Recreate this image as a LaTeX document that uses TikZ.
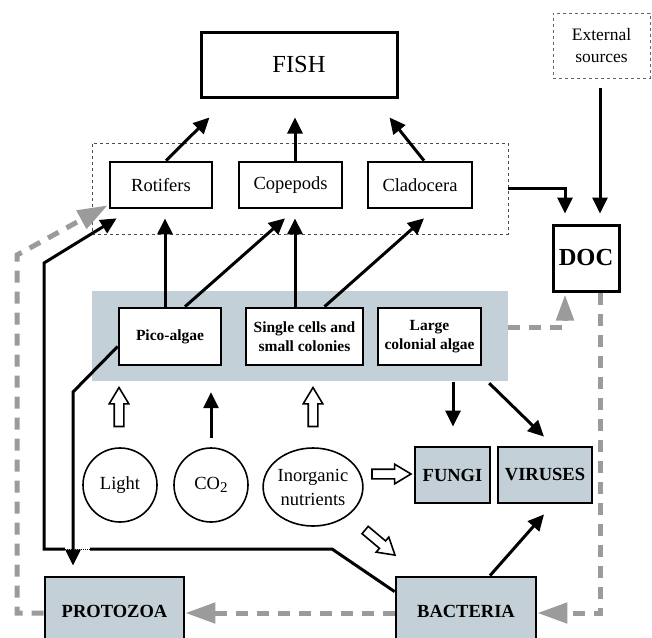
\documentclass[tikz,border=0pt]{standalone}
\usepackage{fontspec}
\setmainfont{Liberation Serif}
\usetikzlibrary{arrows.meta,calc,shapes.geometric,shapes.arrows}
\definecolor{bandgray}{RGB}{196,208,215}
\definecolor{dgray}{RGB}{155,155,155}
\begin{document}
\begin{tikzpicture}[x=1pt,y=-1pt,
  box/.style={draw, line width=2.7pt, fill=white, inner sep=0pt, align=center, font=\fontsize{18.5}{20}\selectfont},
  bbox/.style={box, font=\bfseries\fontsize{15.5}{19}\selectfont},
  gbox/.style={draw, line width=2.8pt, fill=bandgray, inner sep=0pt, font=\bfseries\fontsize{18.5}{20}\selectfont},
  rnd/.style={draw, line width=1.6pt, inner sep=0pt, align=center, font=\fontsize{18.5}{24}\selectfont},
  arr/.style={line width=3pt, line join=miter, -{Triangle[length=16pt,width=15pt]}},
  garr/.style={dgray, line width=5pt, line join=miter, dash pattern=on 12pt off 9pt, -{Triangle[length=30pt,width=20pt]}},
  harr/.style={draw, line width=1.6pt, single arrow, inner xsep=0pt, inner ysep=4pt,
    minimum height=39pt, single arrow head extend=5pt, single arrow tip angle=62}
]
\clip (0,0) rectangle (652,637);
% nodes
\node[box, line width=3pt, minimum width=196pt, minimum height=65pt, font=\fontsize{24.5}{26}\selectfont] (fish) at (299,64.5) {FISH};
\node[draw=black!60, dashed, line width=0.8pt, minimum width=97pt, minimum height=65pt, inner sep=0pt, align=center, font=\fontsize{17.5}{22}\selectfont] (ext) at (601.5,45.5) {External\\sources};
\node[draw=black!70, dashed, line width=0.8pt, minimum width=416pt, minimum height=91pt, inner sep=0pt] (zoo) at (300,188.5) {};
\node[box, minimum width=102pt, minimum height=46pt] (rot) at (161,185) {Rotifers};
\node[box, minimum width=103pt, minimum height=46pt] (cop) at (290.5,185) {Copepods};
\node[box, minimum width=104pt, minimum height=46pt] (clad) at (420,185) {Cladocera};
\node[box, line width=3pt, minimum width=66pt, minimum height=66pt, font=\bfseries\fontsize{24.5}{26}\selectfont] (doc) at (586,258) {DOC};
\node[fill=bandgray, minimum width=416pt, minimum height=90pt, inner sep=0pt] (band) at (300,336) {};
\node[bbox, minimum width=102pt, minimum height=57pt] (pico) at (170,336.5) {Pico-algae};
\node[bbox, minimum width=117pt, minimum height=57pt] (single) at (304.5,336.5) {Single cells and\\small colonies};
\node[bbox, minimum width=103pt, minimum height=57pt] (large) at (429.5,336.5) {Large\\colonial algae};
\node[rnd, circle, minimum size=74pt] (light) at (120,485) {Light};
\node[rnd, circle, minimum size=74pt] (co2) at (211,485) {CO\raisebox{-0.35ex}{\fontsize{15}{15}\selectfont 2}};
\node[rnd, ellipse, minimum width=94pt, minimum height=78pt] (nut) at (313,487) {Inorganic\\nutrients};
\node[gbox, minimum width=75pt, minimum height=56pt] (fungi) at (452.5,475) {FUNGI};
\node[gbox, minimum width=94pt, minimum height=56pt] (viruses) at (545,475) {VIRUSES};
\node[gbox, minimum width=140pt, minimum height=68pt] (bact) at (466,611) {BACTERIA};
\node[gbox, minimum width=139pt, minimum height=68pt] (proto) at (114.5,611) {PROTOZOA};
% zooplankton -> fish
\draw[arr] ($(rot.north)+(5,0)$) -- ($(fish.south west)+(10,19)$);
\draw[arr] ($(cop.north)+(4.5,0)$) -- ($(fish.south)+(-4,19)$);
\draw[arr] ($(clad.north)+(4,0)$) -- ($(fish.south east)+(-9,19)$);
% to DOC
\draw[arr] (zoo.east) -| ($(doc.north)+(-21,-10)$);
\draw[arr] ($(ext.south)+(-1.5,10)$) -- ($(doc.north)+(14,-10)$);
% algae -> zooplankton
\draw[arr] ($(pico.north)+(-5,0)$) -- ($(rot.south)+(4,9)$);
\draw[arr] ($(pico.north)+(15,0)$) -- ($(cop.south)+(-5.5,9)$);
\draw[arr] ($(single.north)+(-9.5,0)$) -- ($(cop.south)+(4.5,9)$);
\draw[arr] ($(single.north)+(20,0)$) -- ($(clad.south)+(4,9)$);
% bacteria -> rotifers
\coordinate (j1) at (332,549);
\coordinate (j2) at (44,549);
\coordinate (j3) at (44,263);
\draw[arr] ($(bact.north west)+(0,16)$) -- (j1) -- (j2) -- (j3) -- ($(rot.south west)+(8,9)$);
\fill[white] (65,545) rectangle (90,553);
\draw[densely dotted, line width=1pt] (65,549) -- (90,549);
% pico -> protozoa
\coordinate (k1) at (73,392);
\draw[arr] ($(pico.west)+(0,10)$) -- (k1) -- ($(proto.north)+(-41.5,-10)$);
% resources
\draw[arr] ($(co2.north)+(0,-9)$) -- ($(co2.north)+(0,-55)$);
\node[harr, rotate=90] (h1) at (119,411) {};
\node[harr, rotate=90] (h2) at (313,411) {};
\node[harr] (h3) at (387.5,474) {};
\node[harr, rotate=-40] (h4) at (377,540) {};
% to fungi / viruses
\draw[arr] ($(fungi.north)+(0.5,-64)$) -- ($(fungi.north)+(0.5,-19)$);
\draw[arr] ($(band.south east)+(-19,2)$) -- ($(viruses.north)+(-1,-9)$);
\draw[arr] ($(bact.north)+(24,0)$) -- ($(viruses.south)+(-1,10)$);
% gray dashed flows
\draw[garr, -{Triangle[length=26pt,width=17pt]}] ($(band.east)+(0,-9)$) -| ($(doc.south)+(-21,2)$);
\draw[garr] ($(doc.south)+(14,0)$) |- ($(bact.east)+(0,2)$);
\draw[garr] ($(bact.west)+(0,2)$) -- ($(proto.east)+(0,2)$);
\coordinate (w1) at (17,613);
\coordinate (w2) at (17,255);
\draw[garr] ($(proto.west)+(0,2)$) -- (w1) -- (w2) -- ($(rot.south west)+(-1,-4)$);
\end{tikzpicture}
\end{document}
